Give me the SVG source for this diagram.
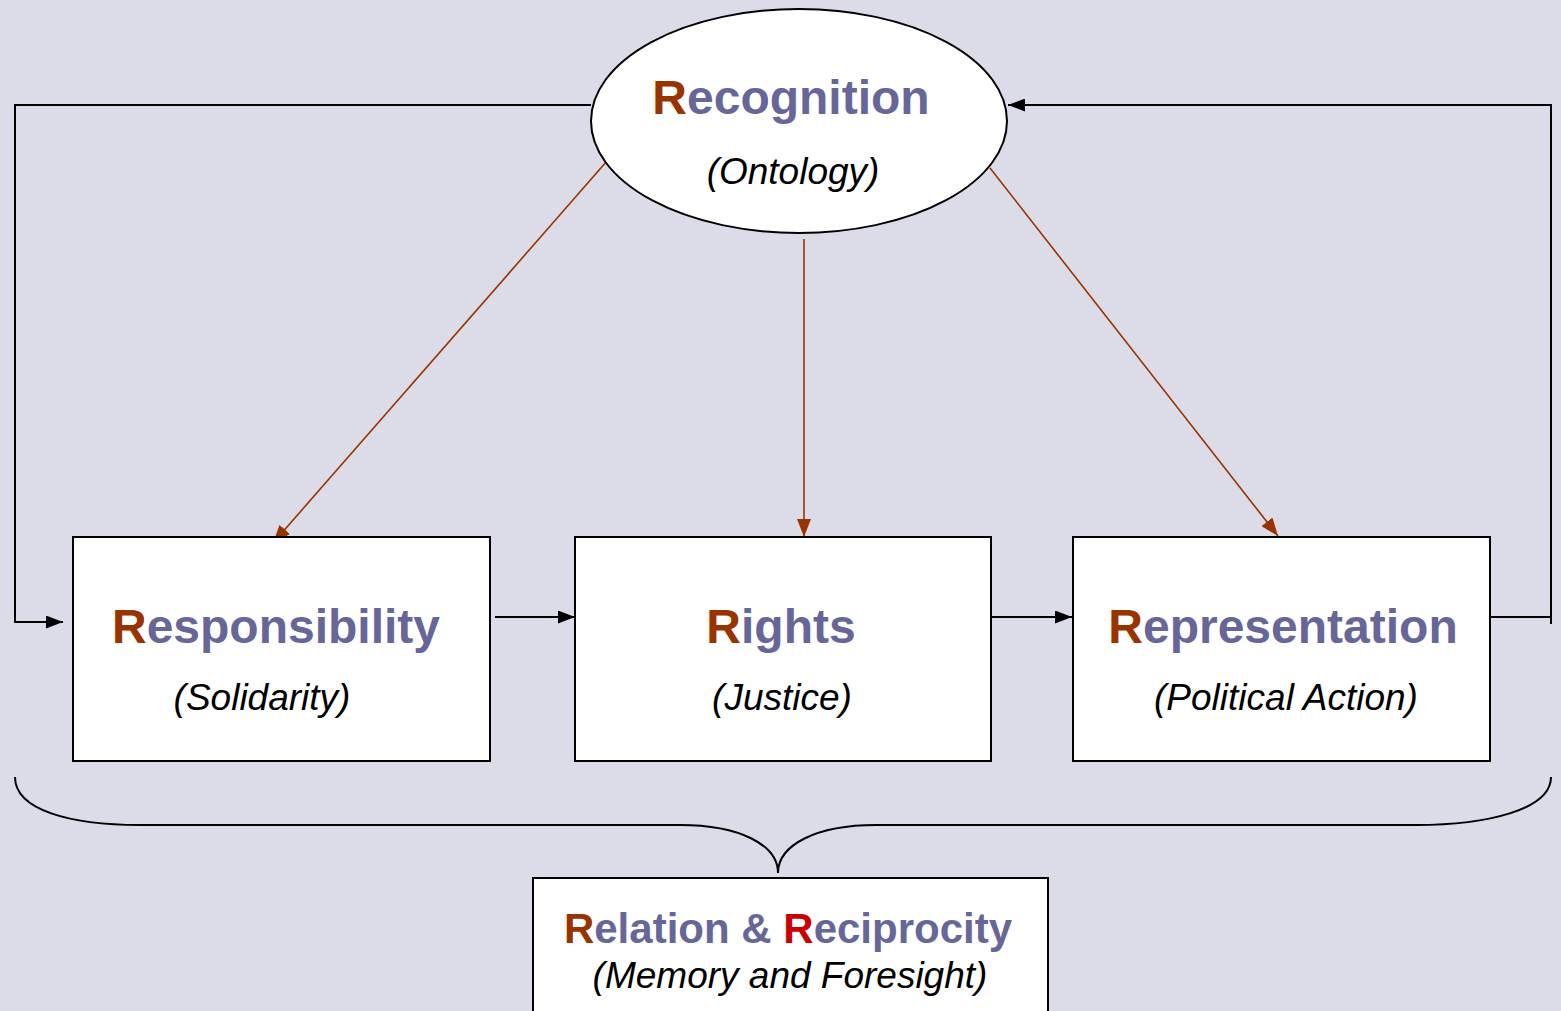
<svg xmlns="http://www.w3.org/2000/svg" width="1561" height="1011" viewBox="0 0 1561 1011">
<style>
.node{fill:#ffffff;stroke:#000000;stroke-width:2}
.k{fill:none;stroke:#000000;stroke-width:2}
.b{fill:none;stroke:#993300;stroke-width:1.6}
.t{font-family:"Liberation Sans",Arial,sans-serif;font-weight:bold;fill:#666699;text-anchor:middle}
.s{font-family:"Liberation Sans",Arial,sans-serif;font-style:italic;fill:#000000;text-anchor:middle;font-size:37px}
.r{fill:#993300}
.rr{fill:#cc0000}
</style>
<defs>
<marker id="ak" viewBox="0 0 17 13" refX="17" refY="6.5" markerWidth="17" markerHeight="13" markerUnits="userSpaceOnUse" orient="auto"><path d="M0,0 L17,6.5 L0,13 Z" fill="#000"/></marker>
<marker id="ab" viewBox="0 0 18 14" refX="18" refY="7" markerWidth="18" markerHeight="14" markerUnits="userSpaceOnUse" orient="auto"><path d="M0,0 L18,7 L0,14 Z" fill="#993300"/></marker>
</defs>
<rect x="0" y="0" width="1561" height="1011" fill="#dcdce8"/>
<g id="connectors">
<polyline class="k" points="591,105 15,105 15,622 63,622" marker-end="url(#ak)"/>
<polyline class="k" points="1487,617 1551,617"/>
<polyline class="k" points="1551,624 1551,105 1008,105" marker-end="url(#ak)"/>
<line class="k" x1="495" y1="617" x2="575" y2="617" marker-end="url(#ak)"/>
<line class="k" x1="991" y1="617" x2="1072" y2="617" marker-end="url(#ak)"/>
<line class="b" x1="607" y1="161" x2="273" y2="543" marker-end="url(#ab)"/>
<line class="b" x1="804" y1="239" x2="804" y2="537" marker-end="url(#ab)"/>
<line class="b" x1="990" y1="168" x2="1278" y2="536" marker-end="url(#ab)"/>
<path class="k" d="M15,777 C15,810 70,825 140,825 L680,825 C740,825 778,845 778,873 C778,845 816,825 876,825 L1416,825 C1486,825 1551,810 1551,777"/>
</g>
<g id="recognition">
<ellipse class="node" cx="799" cy="121" rx="208" ry="112"/>
<text class="t" x="791" y="114" font-size="48"><tspan class="r">R</tspan>ecognition</text>
<text class="s" x="793" y="184">(Ontology)</text>
</g>
<g id="responsibility">
<rect class="node" x="73" y="537" width="417" height="224"/>
<text class="t" x="276" y="643" font-size="48"><tspan class="r">R</tspan>esponsibility</text>
<text class="s" x="262" y="710">(Solidarity)</text>
</g>
<g id="rights">
<rect class="node" x="575" y="537" width="416" height="224"/>
<text class="t" x="781" y="643" font-size="48"><tspan class="r">R</tspan>ights</text>
<text class="s" x="782" y="710">(Justice)</text>
</g>
<g id="representation">
<rect class="node" x="1073" y="537" width="417" height="224"/>
<text class="t" x="1283" y="643" font-size="48"><tspan class="r">R</tspan>epresentation</text>
<text class="s" x="1286" y="710">(Political Action)</text>
</g>
<g id="relation">
<rect class="node" x="533" y="878" width="515" height="150"/>
<text class="t" x="788" y="943" font-size="42"><tspan class="r">R</tspan>elation &amp; <tspan class="rr">R</tspan>eciprocity</text>
<text class="s" x="790" y="988">(Memory and Foresight)</text>
</g>
</svg>
